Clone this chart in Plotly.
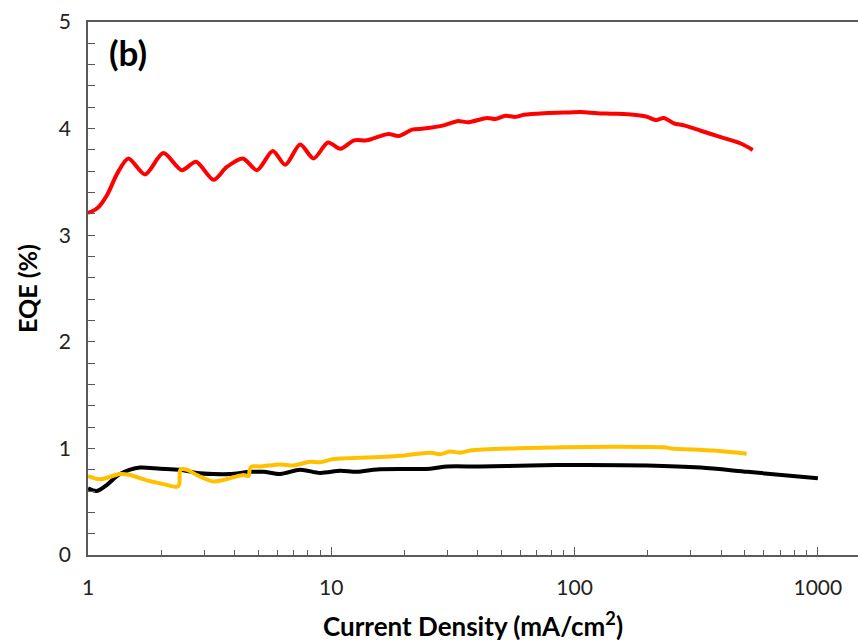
import plotly.graph_objects as go

# Red series
red_x = [1.0, 1.03, 1.10, 1.2, 1.32, 1.465, 1.716, 2.04, 2.43, 2.78, 3.28, 3.72, 4.33, 4.95, 5.75, 6.47,
         7.45, 8.46, 9.69, 10.9, 12.4, 14.0, 15.9, 17.2, 18.9, 21.5, 24.0, 29.0, 32.9, 36.7, 43.7,
         47.3, 52.0, 57.2, 61.9, 74.8, 90.4, 105.9, 124, 145, 175, 199, 215, 233, 256, 282, 330,
         399, 482, 540]
red_y = [3.21, 3.22, 3.26, 3.38, 3.58, 3.72, 3.57, 3.77, 3.61, 3.69, 3.52, 3.64, 3.72, 3.61, 3.79, 3.66,
         3.85, 3.72, 3.87, 3.81, 3.89, 3.89, 3.93, 3.95, 3.93, 3.99, 4.00, 4.03, 4.07, 4.06, 4.10,
         4.09, 4.12, 4.11, 4.13, 4.145, 4.15, 4.155, 4.145, 4.14, 4.13, 4.11, 4.08, 4.10, 4.05, 4.03,
         3.98, 3.92, 3.86, 3.80]

# Black series
black_x = [1.0, 1.086, 1.194, 1.332, 1.489, 1.637, 1.98, 2.39, 2.80, 3.28, 3.84, 4.64, 5.27, 6.17,
           7.45, 9.0, 10.9, 12.7, 14.9, 15.9, 25.5, 29.9, 41.0, 65.7, 105.9, 199, 330, 514, 1000]
black_y = [0.625, 0.60, 0.656, 0.75, 0.80, 0.82, 0.81, 0.80, 0.77, 0.76, 0.76, 0.78, 0.78, 0.76,
           0.80, 0.77, 0.79, 0.78, 0.80, 0.805, 0.81, 0.83, 0.83, 0.84, 0.845, 0.84, 0.82, 0.78, 0.72]

# Yellow series
yellow_x = [1.0, 1.12, 1.354, 1.489, 1.744, 2.04, 2.32, 2.37, 2.38, 2.40, 2.55, 2.80, 3.28, 3.84,
            4.36, 4.57, 4.62, 4.70, 5.10, 6.17, 7.0, 8.18, 9.0, 10.2, 15.9, 19.2, 25.5, 28.0, 30.8,
            34.0, 37.2, 56.3, 90.4, 145, 233, 250, 374, 510]
yellow_y = [0.74, 0.71, 0.76, 0.75, 0.70, 0.665, 0.64, 0.66, 0.74, 0.80, 0.80, 0.75, 0.69, 0.72,
            0.75, 0.74, 0.80, 0.83, 0.83, 0.85, 0.84, 0.875, 0.87, 0.90, 0.92, 0.93, 0.96, 0.945, 0.97,
            0.96, 0.98, 1.00, 1.01, 1.015, 1.01, 1.00, 0.98, 0.95]

x_ticks = [1, 10, 100, 1000]
x_ticktext = ["1", "10", "100", "1000"]
y_ticks = [0, 1, 2, 3, 4, 5]

FONT = "Lato"
AXIS_COLOR = "#595959"

fig = go.Figure()
for xs, ys, col in [(black_x, black_y, "#000000"), (yellow_x, yellow_y, "#FFC000"), (red_x, red_y, "#FF0000")]:
    fig.add_trace(go.Scatter(x=xs, y=ys, mode="lines", line=dict(color=col, width=4, shape="spline", smoothing=0.8),
                             showlegend=False, hoverinfo="skip"))

fig.update_layout(
    width=858, height=644,
    margin=dict(l=88, r=0, t=22, b=89),
    paper_bgcolor="white", plot_bgcolor="white",
    font=dict(family=FONT, color="#000000"),
    xaxis=dict(type="log", range=[0, 3.165], tickvals=x_ticks, ticktext=x_ticktext,
               ticks="inside", ticklen=8, tickwidth=1.3, tickcolor=AXIS_COLOR,
               showline=True, linecolor=AXIS_COLOR, linewidth=1.5, mirror=True,
               showgrid=False, zeroline=False, tickfont=dict(size=21, family=FONT, color="#222222"),
               ticklabelstandoff=13,
               minor=dict(ticks="inside", ticklen=5, tickwidth=1.2, tickcolor=AXIS_COLOR, dtick="D1", showgrid=False),
               title=dict(text="<b>Current Density (mA/cm<sup>2</sup>)</b>", font=dict(size=26, family=FONT), standoff=20)),
    yaxis=dict(range=[0, 5], tickvals=y_ticks, ticks="inside", ticklen=7, tickwidth=1.3, tickcolor=AXIS_COLOR,
               showline=True, linecolor=AXIS_COLOR, linewidth=1.5, mirror=False,
               showgrid=False, zeroline=False, tickfont=dict(size=21, family=FONT, color="#222222"),
               ticklabelstandoff=11,
               minor=dict(dtick=0.2, ticks="inside", ticklen=7, tickwidth=1.2, tickcolor=AXIS_COLOR, showgrid=False),
               title=dict(text="<b>EQE (%)</b>", font=dict(size=25, family=FONT), standoff=14)),
    annotations=[dict(text="<b>(b)</b>", x=0.025, y=0.943, xref="paper", yref="paper", xanchor="left", yanchor="middle",
                      showarrow=False, font=dict(size=35, family=FONT, color="#000000"))],
)

fig.write_html("out.html")
